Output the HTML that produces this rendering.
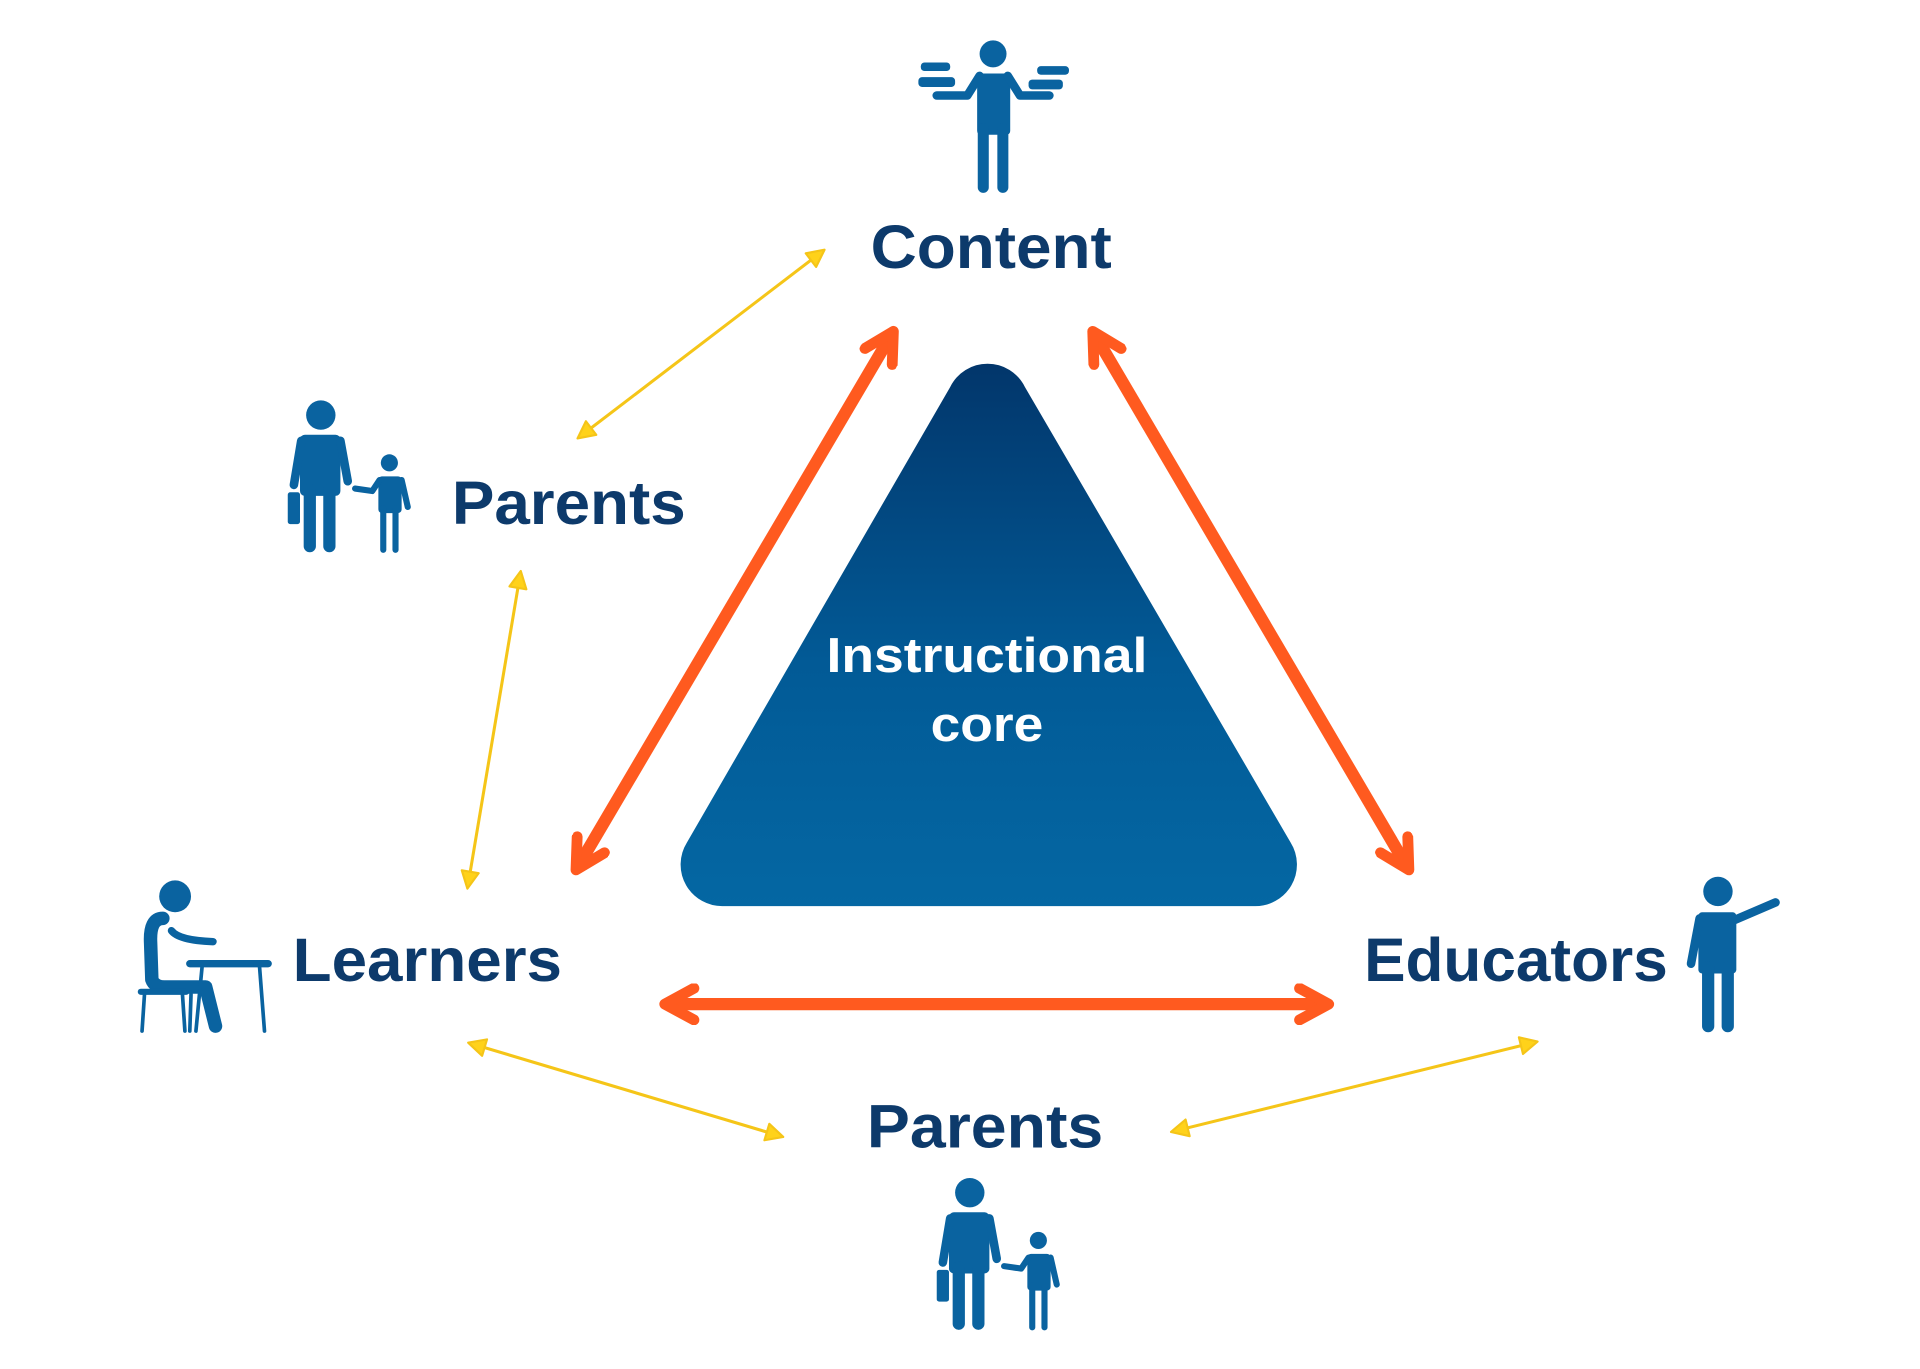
<!DOCTYPE html>
<html><head><meta charset="utf-8"><style>
html,body{margin:0;padding:0;background:#fff;}
svg{display:block;}
text{font-family:"Liberation Sans",sans-serif;font-weight:bold;}
</style></head><body>
<svg width="1920" height="1369" viewBox="0 0 1568 1118" preserveAspectRatio="none" xmlns="http://www.w3.org/2000/svg">
<defs>
<linearGradient id="g" x1="0" y1="0" x2="0" y2="1">
<stop offset="0" stop-color="#02366b"/><stop offset="0.55" stop-color="#025a96"/><stop offset="1" stop-color="#0467a3"/>
</linearGradient>
<marker id="oa" viewBox="0 0 10 10" refX="7" refY="5" markerWidth="3.4" markerHeight="3.4" orient="auto-start-reverse">
<path d="M1.5,1.2 L8.5,5 L1.5,8.8" fill="none" stroke="#ff5a1f" stroke-width="2.6" stroke-linejoin="round" stroke-linecap="round"/>
</marker>
<marker id="ya" viewBox="0 0 10 10" refX="8" refY="5" markerWidth="7" markerHeight="7" orient="auto-start-reverse">
<path d="M1,1 L9,5 L1,9 z" fill="#ffd21a" stroke="#f5c518" stroke-width="1" stroke-linejoin="round"/>
</marker>
</defs>

<path d="M776,316 A34,34 0 0 1 837,316 L1054,688 A34,34 0 0 1 1024,740 L591,740 A34,34 0 0 1 561,688 Z" fill="url(#g)"/>
<text x="806" y="549" fill="#fff" font-size="40" text-anchor="middle" textLength="262" lengthAdjust="spacingAndGlyphs">Instructional</text>
<text x="806" y="605" fill="#fff" font-size="40" text-anchor="middle" textLength="92" lengthAdjust="spacingAndGlyphs">core</text>

<g stroke="#ff5a1f" stroke-width="10" fill="none">
<line x1="727" y1="275" x2="473" y2="706" marker-start="url(#oa)" marker-end="url(#oa)"/>
<line x1="895" y1="275" x2="1148" y2="706" marker-start="url(#oa)" marker-end="url(#oa)"/>
<line x1="548" y1="820" x2="1080" y2="820" marker-start="url(#oa)" marker-end="url(#oa)"/>
</g>

<g stroke="#f5c518" stroke-width="2.5" fill="none">
<line x1="672" y1="205" x2="473" y2="357" marker-start="url(#ya)" marker-end="url(#ya)"/>
<line x1="425" y1="468" x2="382" y2="724" marker-start="url(#ya)" marker-end="url(#ya)"/>
<line x1="384" y1="852" x2="638" y2="928" marker-start="url(#ya)" marker-end="url(#ya)"/>
<line x1="958" y1="924" x2="1254" y2="851" marker-start="url(#ya)" marker-end="url(#ya)"/>
</g>

<g fill="#0d3a6b" font-size="50">
<text x="711" y="219" textLength="197" lengthAdjust="spacingAndGlyphs">Content</text>
<text x="369" y="428" textLength="191" lengthAdjust="spacingAndGlyphs">Parents</text>
<text x="239" y="801" textLength="220" lengthAdjust="spacingAndGlyphs">Learners</text>
<text x="1114" y="801" textLength="248" lengthAdjust="spacingAndGlyphs">Educators</text>
<text x="708" y="937" textLength="193" lengthAdjust="spacingAndGlyphs">Parents</text>
</g>

<g fill="#0a63a0" stroke="#0a63a0" stroke-linecap="round" stroke-linejoin="round">
<circle cx="811" cy="44" r="11" stroke="none"/>
<rect x="798" y="60" width="27" height="50" rx="3" stroke="none"/>
<line x1="803" y1="105" x2="803" y2="153" stroke-width="9"/>
<line x1="819" y1="105" x2="819" y2="153" stroke-width="9"/>
<path d="M800,62 L790,78 L765,78" fill="none" stroke-width="7"/>
<path d="M823,62 L833,78 L857,78" fill="none" stroke-width="7"/>
<rect x="752" y="51" width="24" height="7" rx="3" stroke="none"/>
<rect x="750" y="63" width="30" height="8" rx="3" stroke="none"/>
<rect x="847" y="54" width="26" height="7" rx="3" stroke="none"/>
<rect x="840" y="65" width="28" height="8" rx="3" stroke="none"/>

<g id="par">
<circle cx="262" cy="339" r="12" stroke="none"/>
<rect x="245" y="355" width="33" height="50" rx="4" stroke="none"/>
<line x1="253" y1="400" x2="253" y2="446" stroke-width="10"/>
<line x1="269" y1="400" x2="269" y2="446" stroke-width="10"/>
<line x1="246" y1="360" x2="240" y2="396" stroke-width="7"/>
<line x1="278" y1="360" x2="284" y2="393" stroke-width="7"/>
<rect x="235" y="402" width="10" height="26" rx="2" stroke="none"/>
<circle cx="318" cy="378" r="7" stroke="none"/>
<rect x="309" y="389" width="19" height="30" rx="3" stroke="none"/>
<line x1="313" y1="415" x2="313" y2="449" stroke-width="5"/>
<line x1="323" y1="415" x2="323" y2="449" stroke-width="5"/>
<line x1="328" y1="392" x2="333" y2="414" stroke-width="5"/>
<path d="M310,392 L304,401 L290,399" fill="none" stroke-width="5"/>
</g>
<use href="#par" transform="translate(530,635)"/>

<circle cx="143" cy="732" r="13" stroke="none"/>
<path d="M133,750 Q122,750 123,770 L124,800 Q126,806 134,806 L160,806 L168,806 L176,838" fill="none" stroke-width="11"/>
<path d="M140,760 Q146,768 174,769" fill="none" stroke-width="6"/>
<line x1="155" y1="787" x2="219" y2="787" stroke-width="6"/>
<line x1="165" y1="790" x2="160" y2="842" stroke-width="3"/>
<line x1="212" y1="790" x2="216" y2="842" stroke-width="3"/>
<line x1="115" y1="810" x2="152" y2="810" stroke-width="5"/>
<line x1="118" y1="812" x2="116" y2="842" stroke-width="3"/>
<line x1="149" y1="812" x2="151" y2="842" stroke-width="3"/>
<line x1="156" y1="812" x2="155" y2="842" stroke-width="3"/>

<circle cx="1403" cy="728" r="12" stroke="none"/>
<rect x="1387" y="745" width="31" height="50" rx="3" stroke="none"/>
<line x1="1395" y1="790" x2="1395" y2="838" stroke-width="10"/>
<line x1="1411" y1="790" x2="1411" y2="838" stroke-width="10"/>
<line x1="1388" y1="750" x2="1381" y2="787" stroke-width="7"/>
<path d="M1415,752 L1450,737" fill="none" stroke-width="7"/>
</g>
</svg>
</body></html>
